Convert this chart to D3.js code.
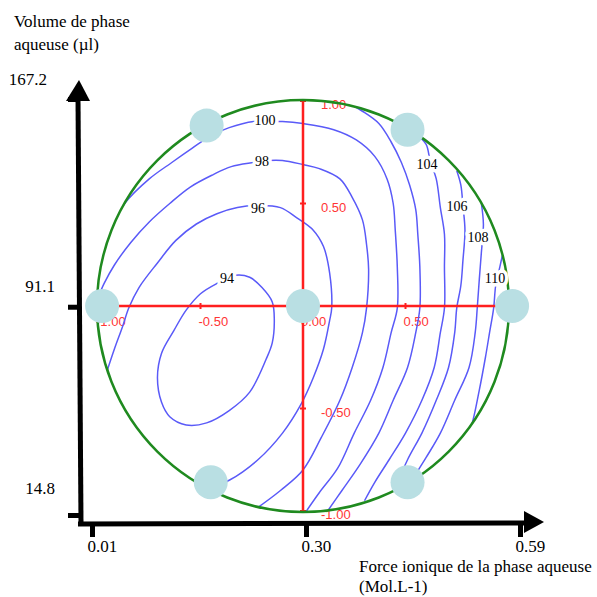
<!doctype html>
<html lang="fr">
<head>
<meta charset="utf-8">
<script src="https://cdn.jsdelivr.net/npm/d3@7"></script>
<style>
  body { margin:0; background:#fff; }
  svg { display:block; }
  .serif { font-family: "Liberation Serif", "Times New Roman", serif; font-size:17px; fill:#000; }
  .red { font-family: "Liberation Sans", Arial, sans-serif; font-size:13px; fill:#ff3535; }
  .clab { font-family: "Liberation Serif", "Times New Roman", serif; font-size:14px; fill:#000;
          stroke:#fff; stroke-width:7px; paint-order:stroke; stroke-linejoin:round; }
</style>
<title>Doehlert - iso-réponses</title>
</head>
<body>
<script>
// iso-response lines, coded units [x, y]
const c94 = [[-0.33,0.15],[-0.26,0.14],[-0.20,0.09],[-0.15,0.02],[-0.14,-0.07],[-0.15,-0.18],[-0.18,-0.26],
  [-0.26,-0.42],[-0.36,-0.51],[-0.47,-0.57],[-0.57,-0.58],[-0.65,-0.54],[-0.69,-0.47],[-0.71,-0.35],
  [-0.69,-0.23],[-0.63,-0.12],[-0.57,-0.02],[-0.50,0.06],[-0.42,0.11]];
const c96 = [[-0.96,-0.33],[-0.92,-0.21],[-0.88,-0.10],[-0.85,-0.01],[-0.80,0.09],[-0.71,0.21],[-0.62,0.32],
  [-0.52,0.40],[-0.42,0.45],[-0.32,0.48],[-0.22,0.49],[-0.11,0.48],[-0.03,0.43],[0.05,0.37],[0.10,0.29],
  [0.13,0.16],[0.14,-0.01],[0.13,-0.07],[0.10,-0.21],[0.05,-0.35],[-0.01,-0.48],[-0.10,-0.62],
  [-0.22,-0.75],[-0.36,-0.85],[-0.49,-0.90]];
const c98 = [[-1.00,0.04],[-0.97,0.11],[-0.92,0.20],[-0.84,0.31],[-0.75,0.41],[-0.65,0.50],[-0.55,0.58],
  [-0.44,0.64],[-0.35,0.68],[-0.24,0.70],[-0.17,0.71],[-0.10,0.71],[0.00,0.69],[0.08,0.67],[0.18,0.62],
  [0.24,0.53],[0.29,0.42],[0.31,0.30],[0.32,0.18],[0.31,-0.01],[0.29,-0.13],[0.24,-0.30],[0.18,-0.46],
  [0.09,-0.64],[0.00,-0.80],[-0.11,-0.90],[-0.23,-0.99]];
const c100 = [[-0.94,0.38],[-0.87,0.50],[-0.75,0.62],[-0.64,0.70],[-0.54,0.77],[-0.45,0.83],[-0.36,0.87],
  [-0.24,0.90],[-0.18,0.90],[-0.10,0.90],[0.00,0.89],[0.15,0.86],[0.26,0.81],[0.35,0.73],[0.41,0.62],
  [0.44,0.50],[0.45,0.37],[0.46,0.19],[0.46,-0.01],[0.43,-0.13],[0.39,-0.30],[0.33,-0.46],[0.25,-0.62],
  [0.17,-0.79],[0.08,-0.91],[0.01,-1.01]];
const c102 = [[0.22,0.99],[0.29,0.95],[0.37,0.89],[0.43,0.80],[0.48,0.70],[0.52,0.59],[0.55,0.47],
  [0.56,0.35],[0.57,0.19],[0.57,-0.01],[0.55,-0.13],[0.51,-0.30],[0.44,-0.46],[0.37,-0.62],[0.28,-0.77],
  [0.19,-0.90],[0.12,-1.00]];
const c104 = [[0.55,0.84],[0.60,0.79],[0.62,0.71],[0.65,0.62],[0.67,0.48],[0.69,0.35],[0.69,0.19],
  [0.69,-0.01],[0.67,-0.13],[0.64,-0.30],[0.58,-0.46],[0.50,-0.62],[0.42,-0.75],[0.35,-0.86],[0.30,-0.95]];
const c106 = [[0.75,0.66],[0.77,0.59],[0.78,0.49],[0.79,0.37],[0.78,0.22],[0.77,0.10],[0.75,-0.01],
  [0.74,-0.13],[0.71,-0.30],[0.65,-0.46],[0.58,-0.62],[0.51,-0.75],[0.45,-0.89]];
const c108 = [[0.87,0.50],[0.88,0.40],[0.87,0.26],[0.86,0.13],[0.85,-0.01],[0.84,-0.13],[0.81,-0.30],
  [0.74,-0.46],[0.67,-0.62],[0.60,-0.74],[0.55,-0.82]];
const c110 = [[0.98,0.28],[0.96,0.19],[0.94,0.10],[0.93,-0.01],[0.91,-0.13],[0.89,-0.25],[0.86,-0.41],
  [0.82,-0.59],[0.78,-0.68]];

// contour labels (level + where it sits, coded units)
const labelLevels = [100, 98, 96, 94, 104, 106, 108, 110];
const labelX = [-0.185, -0.20, -0.22, -0.371, 0.605, 0.751, 0.854, 0.937];
const labelY = [0.907, 0.707, 0.478, 0.137, 0.693, 0.488, 0.337, 0.137];

// Doehlert experimental points (coded)
const designX = [0, 1.02, 0.51, -0.47, -0.98, -0.45, 0.51];
const designY = [0, 0, 0.86, 0.88, 0, -0.86, -0.86];

// coded axes
const codedTicks = [-1, -0.5, 0, 0.5, 1];
const hLabelVals = [-1, -0.5, 0, 0.5];
const vLabelVals = [1, 0.5, -0.5, -1];

// real units
const forceTicks = [0.01, 0.30, 0.59];
const volumeTicks = [14.8, 91.1, 167.2];

const contours = [
  {level:94, pts:c94, closed:true}, {level:96, pts:c96}, {level:98, pts:c98},
  {level:100, pts:c100}, {level:102, pts:c102}, {level:104, pts:c104},
  {level:106, pts:c106}, {level:108, pts:c108}, {level:110, pts:c110}
];

const W = 597, H = 597;
const svg = d3.select("body").append("svg").attr("width", W).attr("height", H);

const xC = d3.scaleLinear().domain([-1, 1]).range([98, 508]);
const yC = d3.scaleLinear().domain([-1, 1]).range([511, 101]);
const R = xC(1) - xC(0) + 1;

const xOut = d3.scaleLinear().domain([0.01, 0.59]).range([92, 520]);
const yOut = d3.scaleLinear().domain([14.8, 167.2]).range([515, 99]);

svg.append("clipPath").attr("id", "disc")
  .append("circle").attr("cx", xC(0)).attr("cy", yC(0)).attr("r", R);

const f2 = d => d.toFixed(2);

// red coded labels (under the lines)
svg.append("g").selectAll("text").data(hLabelVals).enter().append("text")
  .attr("class", "red")
  .attr("x", d => xC(d) - 2)
  .attr("y", yC(0) + 20)
  .text(d => f2(d));
svg.append("g").selectAll("text").data(vLabelVals).enter().append("text")
  .attr("class", "red")
  .attr("x", xC(0) + 18)
  .attr("y", d => yC(d) + 8)
  .text(d => f2(d));

// iso-response curves
const line = d3.line().x(d => xC(d[0])).y(d => yC(d[1]));
svg.append("g").attr("clip-path", "url(#disc)")
  .selectAll("path").data(contours).enter().append("path")
  .attr("d", d => line.curve(d.closed ? d3.curveCatmullRomClosed : d3.curveCatmullRom)(d.pts))
  .attr("fill", "none")
  .attr("stroke", "#5a5af8")
  .attr("stroke-width", 1.5);

// red coded axes
const red = svg.append("g").attr("stroke", "#ff1f1f");
red.append("line").attr("x1", xC(-1)).attr("x2", xC(1)).attr("y1", yC(0)).attr("y2", yC(0)).attr("stroke-width", 2.5);
red.append("line").attr("x1", xC(0)).attr("x2", xC(0)).attr("y1", yC(1)).attr("y2", yC(-1)).attr("stroke-width", 2.5);
red.selectAll(".th").data(codedTicks).enter().append("line")
  .attr("x1", d => xC(d)).attr("x2", d => xC(d)).attr("y1", yC(0) - 3).attr("y2", yC(0) + 3).attr("stroke-width", 2);
red.selectAll(".tv").data(codedTicks).enter().append("line")
  .attr("x1", xC(0) - 3).attr("x2", xC(0) + 3).attr("y1", d => yC(d)).attr("y2", d => yC(d)).attr("stroke-width", 2);

// experimental domain
svg.append("circle")
  .attr("cx", xC(0)).attr("cy", yC(0)).attr("r", R)
  .attr("fill", "none").attr("stroke", "#1f8a1f").attr("stroke-width", 2.5);

// contour labels
svg.append("g").selectAll("text").data(labelLevels).enter().append("text")
  .attr("class", "clab")
  .attr("text-anchor", "middle")
  .attr("x", (d, i) => xC(labelX[i]))
  .attr("y", (d, i) => yC(labelY[i]))
  .attr("dy", "0.35em")
  .text(d => d);

// Doehlert points
svg.append("g").selectAll("circle").data(designX).enter().append("circle")
  .attr("cx", d => xC(d))
  .attr("cy", (d, i) => yC(designY[i]))
  .attr("r", 17)
  .attr("fill", "#b9dfe3");

// outer black axes
svg.append("line").attr("x1", 78).attr("y1", 98).attr("x2", 81).attr("y2", 524)
  .attr("stroke", "#000").attr("stroke-width", 5);
svg.append("path").attr("d", "M79,80 L66,101 L90,101 Z").attr("fill", "#000");
svg.append("line").attr("x1", 78).attr("y1", 524).attr("x2", 528).attr("y2", 523)
  .attr("stroke", "#000").attr("stroke-width", 5);
svg.append("path").attr("d", "M544,522 L524,511 L524,533 Z").attr("fill", "#000");

const gx = svg.append("g").attr("transform", "translate(0,524)")
  .call(d3.axisBottom(xOut).tickValues(forceTicks).tickSize(13).tickFormat(f2));
gx.select(".domain").remove();
gx.selectAll("line").attr("stroke", "#000").attr("stroke-width", 5);
gx.selectAll("text").attr("class", "serif").attr("text-anchor", "start")
  .attr("x", -5).attr("y", 28).attr("dy", 0);

const gy = svg.append("g").attr("transform", "translate(80,0)")
  .call(d3.axisLeft(yOut).tickValues(volumeTicks).tickSize(12).tickFormat(d => d.toFixed(1)));
gy.select(".domain").remove();
gy.selectAll("line").attr("stroke", "#000").attr("stroke-width", 5);
gy.selectAll("text").attr("class", "serif").attr("text-anchor", "end")
  .attr("x", d => d === d3.max(volumeTicks) ? -33 : -25)
  .attr("y", d => d === d3.min(volumeTicks) ? -22 : -15)
  .attr("dy", 0);

// axis titles
svg.append("text").attr("class", "serif").attr("x", 14).attr("y", 27).text("Volume de phase");
svg.append("text").attr("class", "serif").attr("x", 14).attr("y", 50).text("aqueuse (µl)");
svg.append("text").attr("class", "serif").attr("x", 359).attr("y", 572).text("Force ionique de la phase aqueuse");
svg.append("text").attr("class", "serif").attr("x", 359).attr("y", 592).text("(Mol.L-1)");
</script>
</body>
</html>
